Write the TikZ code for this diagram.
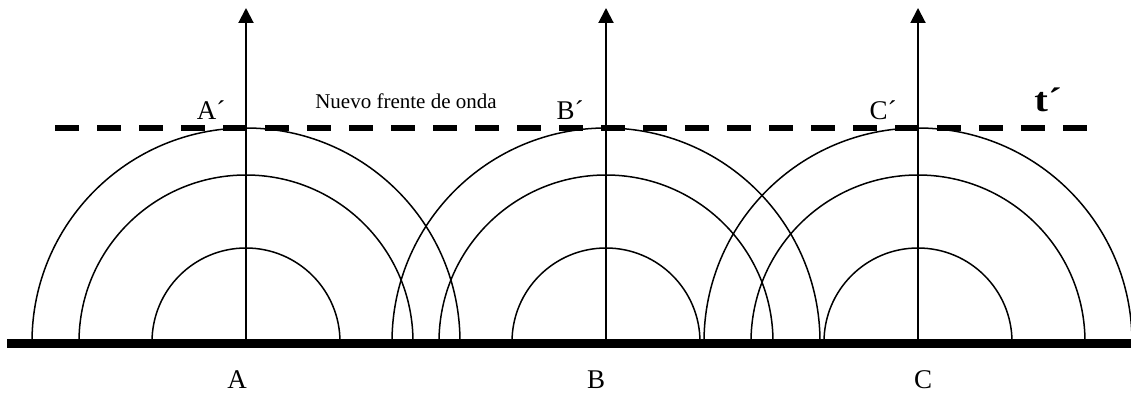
\documentclass[tikz,border=0pt]{standalone}
\usepackage{fontspec}
\setmainfont{Liberation Serif}
\usetikzlibrary{arrows.meta, positioning, calc}

\begin{document}
\begin{tikzpicture}[x=1pt, y=1pt,
    wave/.style={line width=1.5pt},
    ray/.style={line width=2pt, -{Triangle[length=15pt, width=15pt]}},
    front/.style={line width=6pt, dash pattern=on 24pt off 18pt},
    ground/.style={line width=9pt},
    lbl/.style={font=\fontsize{27}{30}\selectfont, inner sep=0pt, anchor=base},
    note/.style={font=\fontsize{21}{24}\selectfont, inner sep=0pt, anchor=base}]
    \useasboundingbox (0,0) rectangle (1131,397);
    \clip (0,0) rectangle (1131,397);

    % Sources on the surface
    \coordinate (A) at (246,55);
    \coordinate (B) at (606,55);
    \coordinate (C) at (918,55);

    % Wavelets
    \foreach \src in {A,B,C} {
        \foreach \r in {94,167,214}
            \draw[wave] ($(\src)+(-\r,0)$) arc[start angle=180, end angle=0, radius=\r];
    }

    % Rays
    \foreach \src in {A,B,C} {
        \coordinate (\src top) at ($(\src)+(0,334)$);
        \draw[ray] (\src) -- (\src top);
    }

    % New wave front
    \coordinate (fL) at (55,269);
    \coordinate (fR) at (1087,269);
    \draw[front] (fL) -- (fR);

    % Surface
    \coordinate (gL) at (7,54);
    \coordinate (gR) at (1131,54);
    \draw[ground] (gL) -- (gR);

    % Labels
    \node[lbl] (labA) at (237,9) {A};
    \node[lbl] (labB) at (596,9) {B};
    \node[lbl] (labC) at (923,9) {C};
    \node[lbl] (labA2) at (211,277) {A´};
    \node[lbl] (labB2) at (570,278) {B´};
    \node[lbl] (labC2) at (883,277) {C´};
    \node[lbl, font=\fontsize{34}{36}\selectfont\bfseries, xscale=1.2] (labt) at (1048,286) {t´};
    \node[note] (frente) at (406,288) {Nuevo frente de onda};
\end{tikzpicture}
\end{document}
